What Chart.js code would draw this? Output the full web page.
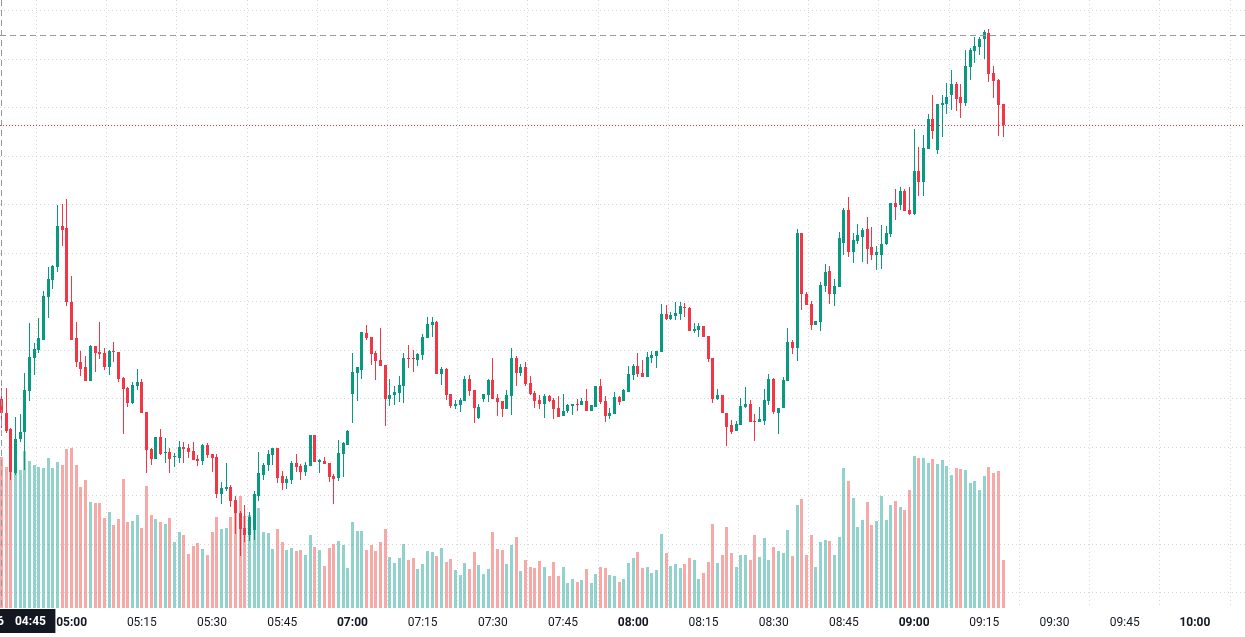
<!DOCTYPE html>
<html>
<head>
<meta charset="utf-8">
<script src="https://cdn.jsdelivr.net/npm/chart.js@4.4.1/dist/chart.umd.min.js"></script>
<style>
  html, body { margin: 0; padding: 0; background: #ffffff; overflow: hidden; }
  canvas { display: block; }
</style>
</head>
<body>
<canvas id="chart" width="1245" height="637"></canvas>
<script>
// 1 minute candles, index 0 = 04:45 (06:xx hour missing, 05:59 -> 07:00)
const open = [
  105.0,103.5,101.9,97.3,100.8,101.6,105.8,109.2,110.0,111.0,
  115.5,117.2,118.6,122.8,122.6,115.0,111.3,108.8,108.3,106.8,
  110.4,109.8,109.7,108.3,109.9,109.8,107.1,106.1,104.6,106.3,
  106.7,103.6,99.8,98.8,101.0,99.4,99.5,99.0,98.9,100.0,
  99.9,99.6,98.8,98.6,100.2,99.3,99.0,95.2,95.7,95.9,
  94.6,93.2,91.7,90.9,91.5,95.0,97.1,98.2,99.2,99.9,
  97.0,96.3,96.6,98.4,98.1,97.4,98.1,101.3,98.5,98.6,
  98.4,97.0,96.8,99.3,100.2,105.5,107.6,108.0,111.8,111.4,
  109.7,109.0,108.5,105.0,105.4,105.6,106.3,109.2,109.2,109.0,
  109.5,111.3,112.6,112.9,107.5,108.1,105.5,104.2,104.3,104.8,
  107.0,105.9,103.0,105.0,105.4,106.9,105.1,104.8,103.9,105.3,
  109.2,107.6,108.3,106.6,105.6,104.9,104.4,105.3,104.9,104.0,
  103.2,103.7,104.2,104.4,104.3,104.8,103.7,104.1,106.3,104.8,
  103.2,103.4,105.2,104.8,105.7,107.4,108.4,107.6,107.2,109.2,
  109.4,109.8,113.7,113.2,113.5,113.7,114.4,114.3,112.0,112.1,
  112.5,111.5,109.2,105.0,105.4,103.5,102.3,101.7,102.3,104.1,
  104.4,102.7,102.6,102.7,104.8,107.0,103.5,104.0,106.8,110.8,
  110.2,122.1,115.8,114.8,112.6,112.9,116.6,118.2,115.8,116.5,
  121.1,124.4,120.1,121.3,121.7,122.5,120.6,119.8,119.8,120.9,
  122.0,125.2,125.0,126.4,124.4,124.0,128.5,127.3,130.7,133.8,
  130.6,135.3,135.4,136.3,137.4,136.1,135.5,139.2,140.8,141.3,
  142.1,142.7,138.6,137.9,135.4
];
const high = [
  106.1,106.1,102.0,103.1,103.4,107.6,112.8,110.7,113.3,116.1,
  118.6,118.8,125.0,125.1,125.6,117.6,112.9,109.9,109.4,110.5,
  110.4,112.9,110.2,110.0,110.8,109.8,107.2,106.2,106.7,108.1,
  107.0,103.6,99.9,101.0,101.9,100.9,99.9,99.4,100.6,100.5,
  100.3,100.5,99.2,100.3,100.4,99.3,99.3,96.4,98.4,96.1,
  95.0,93.4,94.0,93.3,95.5,99.5,98.4,99.7,99.9,99.9,
  97.5,97.0,98.6,99.3,98.3,98.5,101.3,101.3,98.8,99.0,
  98.4,97.2,100.7,100.5,101.8,109.7,108.3,111.9,112.6,111.4,
  109.9,112.3,108.5,107.0,106.3,107.3,109.7,110.5,110.0,109.7,
  111.7,113.4,113.4,113.0,108.3,108.2,105.5,104.9,105.1,107.3,
  107.4,105.9,104.4,105.5,107.0,109.2,105.5,104.8,105.9,110.2,
  109.4,108.6,108.8,107.3,105.8,105.4,105.5,105.4,105.1,105.3,
  105.5,104.5,104.5,105.0,105.1,106.0,104.3,106.3,107.0,105.3,
  104.0,105.7,105.3,106.0,108.4,108.6,109.7,109.0,109.8,109.9,
  109.9,114.8,114.7,113.9,115.0,115.0,114.9,114.4,112.8,112.8,
  112.5,111.5,109.2,106.0,105.4,103.5,102.8,102.7,105.1,106.2,
  104.9,103.4,104.1,106.0,107.5,107.1,104.0,107.2,112.3,111.1,
  122.5,122.1,116.0,115.1,113.0,117.0,118.9,118.7,117.3,122.2,
  124.7,125.8,122.1,123.0,122.6,123.7,122.7,120.7,122.9,122.8,
  125.2,126.6,126.8,126.6,126.8,132.8,130.9,132.2,134.3,136.3,
  135.4,136.3,137.5,138.9,137.6,137.4,140.9,141.2,142.3,142.3,
  143.0,143.1,139.3,138.0,135.4
];
const low = [
  102.0,101.5,96.6,97.1,100.5,97.6,104.8,107.4,109.7,111.0,
  113.3,116.3,118.1,120.7,114.6,111.0,108.3,107.3,106.8,106.8,
  107.7,109.1,108.0,107.4,108.8,106.7,101.4,104.1,104.4,105.9,
  103.5,97.3,98.2,98.8,99.2,98.4,97.3,98.0,98.4,98.4,
  98.9,98.7,98.1,98.2,98.9,97.4,94.8,94.1,95.5,93.8,
  91.1,88.8,90.2,90.3,90.4,94.4,96.6,97.5,98.2,96.3,
  95.6,95.7,96.2,97.4,96.6,97.0,98.1,98.5,97.3,98.3,
  96.4,94.1,96.5,96.9,100.2,102.5,104.8,107.0,111.0,108.5,
  106.9,108.4,102.2,104.2,104.3,104.7,104.6,108.2,107.7,108.4,
  109.0,111.3,111.4,107.5,106.4,104.9,104.0,103.9,103.6,104.8,
  105.3,102.5,102.9,104.7,104.7,105.0,103.2,103.1,103.9,103.3,
  106.3,107.3,106.3,105.4,104.0,103.9,103.0,104.7,102.9,103.1,
  103.2,103.5,103.3,103.7,104.3,103.7,103.7,104.1,104.4,102.6,
  102.9,103.4,104.3,104.8,105.7,106.9,107.2,107.2,107.2,108.7,
  108.2,109.8,113.1,113.1,113.1,113.1,113.4,112.0,111.8,111.4,
  111.4,108.8,104.6,104.9,103.5,100.1,101.4,101.7,102.3,104.0,
  102.6,100.6,102.6,102.3,104.3,103.4,101.4,104.0,106.8,109.6,
  108.9,114.1,114.7,112.1,112.6,112.0,116.0,114.8,114.6,116.5,
  119.8,119.6,119.0,120.9,119.1,118.9,119.3,118.3,118.4,120.8,
  121.7,123.4,124.5,124.3,123.9,123.9,125.9,125.9,130.7,131.8,
  130.2,132.0,134.3,134.8,134.7,133.9,135.2,137.9,139.6,140.4,
  140.0,137.6,136.0,132.1,132.0
];
const close = [
  103.5,101.7,97.4,100.8,101.6,105.9,109.3,110.1,111.3,115.6,
  117.3,118.7,122.8,122.4,115.0,111.0,108.8,108.1,106.8,110.4,
  109.7,109.6,108.3,109.9,109.8,107.0,106.0,104.6,106.4,106.7,
  103.5,99.7,98.8,101.0,99.3,99.5,98.8,99.1,100.0,99.8,
  99.5,98.7,98.6,100.2,99.2,98.9,95.2,95.8,95.9,94.5,
  93.2,91.6,90.9,92.8,95.2,97.3,98.2,99.3,99.9,96.8,
  96.3,96.7,98.4,98.0,97.4,98.2,101.3,98.5,98.7,98.3,
  96.9,96.7,99.4,100.4,101.7,107.7,108.3,111.9,111.3,109.6,
  108.9,108.4,105.0,105.4,105.7,106.4,109.2,109.1,109.1,109.6,
  111.4,112.7,112.9,107.5,108.1,105.4,104.2,104.4,104.9,107.0,
  105.8,104.0,104.1,105.5,106.9,105.0,104.7,103.9,105.4,109.2,
  107.6,108.3,106.5,105.5,104.8,104.4,105.3,104.8,103.9,103.1,
  103.7,104.3,104.4,104.3,104.8,103.7,104.3,106.3,104.7,103.2,
  103.5,105.2,104.7,105.9,107.5,108.4,107.5,107.2,109.3,109.5,
  109.9,113.7,113.2,113.6,113.8,114.6,114.3,112.0,112.2,112.5,
  111.4,109.1,105.0,105.4,103.5,102.1,101.6,102.4,104.2,104.4,
  102.6,102.6,102.9,104.9,107.0,103.6,104.0,106.9,110.8,110.2,
  122.1,115.8,114.7,112.6,113.0,116.7,118.1,115.8,116.6,121.6,
  124.4,120.1,121.4,121.9,122.4,120.4,119.8,120.1,120.9,122.1,
  125.2,124.8,126.4,124.3,124.0,128.5,127.3,130.8,133.8,132.6,
  135.4,135.5,136.1,137.4,135.9,135.5,139.3,140.9,141.4,142.1,
  142.8,138.5,137.7,135.3,133.2
];
const volume = [
  1510,1410,1450,1430,1380,1570,1470,1430,1410,1400,
  1500,1400,1460,1430,1590,1600,1430,1210,1280,1060,
  1050,1050,900,960,830,890,1290,860,870,930,
  800,1220,930,890,860,840,900,660,760,730,
  540,620,650,590,530,760,910,790,800,910,
  990,1120,920,930,840,1000,760,750,590,790,
  660,580,600,570,580,530,730,610,580,420,
  600,640,670,630,400,860,770,770,580,630,
  570,660,790,510,450,500,640,480,500,390,
  440,570,560,520,600,460,490,380,330,450,
  390,560,430,340,390,760,590,580,440,630,
  710,370,480,410,400,470,410,320,460,320,
  410,250,290,260,280,390,250,340,410,400,
  330,320,260,290,450,500,560,400,410,350,
  380,740,550,420,440,400,440,500,480,290,
  350,460,840,450,530,810,550,410,530,530,
  480,730,510,700,480,610,570,550,780,520,
  1030,1090,530,730,410,660,680,670,530,710,
  1400,1270,1100,810,880,1060,830,870,1120,880,
  1030,1070,1010,980,1180,1520,1500,1500,1450,1490,
  1440,1480,1420,1330,1400,1390,1380,1250,1270,1180,
  1320,1410,1350,1370,480
];

// time axis: candle index -> label
const tickIdx = [15, 30, 45, 60, 75, 90, 105, 120, 135, 150, 165, 180, 195, 210, 225, 240, 255];
const tickLabels = ['05:00', '05:15', '05:30', '05:45', '07:00', '07:15', '07:30', '07:45',
  '08:00', '08:15', '08:30', '08:45', '09:00', '09:15', '09:30', '09:45', '10:00'];
const priceStep = 5;

// crosshair
const crossIdx = 0;
const crossPrice = 142.5;
const crossDate = "Thu 26 Feb '26";
const crossTime = '04:45';

const UP = '#089981';
const DOWN = '#f23645';
const VOL_UP = 'rgba(38,166,154,0.5)';
const VOL_DOWN = 'rgba(239,83,80,0.5)';
const GRID = '#d3d6dc';

const isUp = open.map((o, i) => close[i] >= o);
const candleColors = isUp.map(u => (u ? UP : DOWN));
const volColors = isUp.map(u => (u ? VOL_UP : VOL_DOWN));

const wickData = open.map((o, i) => ({ x: i, y: [low[i], high[i]] }));
const bodyData = open.map((o, i) => ({ x: i, y: [Math.min(o, close[i]), Math.max(o, close[i])] }));
const volData = volume.map((v, i) => ({ x: i, y: v }));

// snap bars to whole pixels so they look crisp
const snapBars = {
  id: 'snapBars',
  afterDatasetsUpdate(chart) {
    chart.data.datasets.forEach((ds, di) => {
      chart.getDatasetMeta(di).data.forEach(el => {
        el.x = Math.floor(el.x) + (ds.barThickness % 2 ? 0.5 : 0);
        el.y = Math.round(el.y);
        el.base = Math.round(el.base);
        if (Math.abs(el.base - el.y) < 1) el.base = el.y + 1;
      });
    });
  }
};

const overlay = {
  id: 'overlay',
  afterDatasetsDraw(chart) {
    const { ctx, chartArea: a, scales: { x, y } } = chart;
    ctx.save();
    ctx.lineWidth = 1;

    // last price line
    const last = close.length - 1;
    const ly = Math.round(y.getPixelForValue(close[last])) + 0.5;
    ctx.strokeStyle = isUp[last] ? UP : DOWN;
    ctx.setLineDash([1, 2]);
    ctx.beginPath();
    ctx.moveTo(a.left, ly);
    ctx.lineTo(a.right, ly);
    ctx.stroke();

    // crosshair
    ctx.strokeStyle = '#9598a1';
    ctx.setLineDash([6, 4]);
    const cy = Math.round(y.getPixelForValue(crossPrice)) + 0.5;
    const cx = Math.floor(x.getPixelForValue(crossIdx)) + 0.5;
    ctx.beginPath();
    ctx.moveTo(a.left, cy);
    ctx.lineTo(a.right, cy);
    ctx.moveTo(cx, a.top);
    ctx.lineTo(cx, a.bottom);
    ctx.stroke();
    ctx.restore();
  },
  afterDraw(chart) {
    const { ctx, chartArea: a, scales: { x } } = chart;
    const cx = x.getPixelForValue(crossIdx);
    ctx.save();
    ctx.fillStyle = '#131722';
    ctx.fillRect(cx - 70, a.bottom + 1, 124, 24);
    ctx.fillStyle = '#ffffff';
    ctx.textBaseline = 'middle';
    ctx.textAlign = 'right';
    ctx.font = 'bold 12px Roboto';
    ctx.fillText(crossTime, cx + 44.5, a.bottom + 14);
    ctx.fillText(crossDate, cx + 2.5, a.bottom + 14);
    ctx.restore();
  }
};

new Chart(document.getElementById('chart'), {
  type: 'bar',
  data: {
    datasets: [
      {
        label: 'body',
        data: bodyData,
        backgroundColor: candleColors,
        barThickness: 3,
        minBarLength: 1,
        grouped: false,
        inflateAmount: 0,
        borderWidth: 0,
        yAxisID: 'y',
        order: 1
      },
      {
        label: 'wick',
        data: wickData,
        backgroundColor: candleColors,
        barThickness: 1,
        grouped: false,
        inflateAmount: 0,
        borderWidth: 0,
        yAxisID: 'y',
        order: 2
      },
      {
        label: 'volume',
        data: volData,
        backgroundColor: volColors,
        barThickness: 3,
        grouped: false,
        inflateAmount: 0,
        borderWidth: 0,
        yAxisID: 'yv',
        order: 3
      }
    ]
  },
  options: {
    responsive: false,
    animation: false,
    events: [],
    layout: { padding: 0 },
    plugins: {
      legend: { display: false },
      tooltip: { enabled: false }
    },
    scales: {
      x: {
        type: 'linear',
        min: -0.3,
        max: 265.7,
        offset: false,
        afterBuildTicks: s => { s.ticks = tickIdx.map(v => ({ value: v })); },
        afterFit: s => { s.height = 29; },
        grid: { color: GRID, drawTicks: false, lineWidth: 1 },
        border: { display: false, dash: [1, 3] },
        ticks: {
          autoSkip: false,
          maxRotation: 0,
          padding: 8,
          color: '#131722',
          font: c => ({
            family: 'Roboto',
            size: 12,
            weight: (tickLabels[c.index] || '').endsWith(':00') ? 'bold' : 'normal'
          }),
          callback: (v, i) => tickLabels[i]
        }
      },
      y: {
        position: 'right',
        min: 83.42,
        max: 146.1,
        afterBuildTicks: s => {
          const t = [];
          for (let v = Math.ceil(s.min / priceStep) * priceStep; v <= s.max; v += priceStep) t.push({ value: v });
          s.ticks = t;
        },
        afterFit: s => { s.width = 0; },
        grid: { color: GRID, drawTicks: false, lineWidth: 1 },
        border: { display: false, dash: [1, 3] },
        ticks: { display: false, autoSkip: false }
      },
      yv: {
        display: false,
        min: 0,
        max: 6080
      }
    }
  },
  plugins: [snapBars, overlay]
});
</script>
</body>
</html>
